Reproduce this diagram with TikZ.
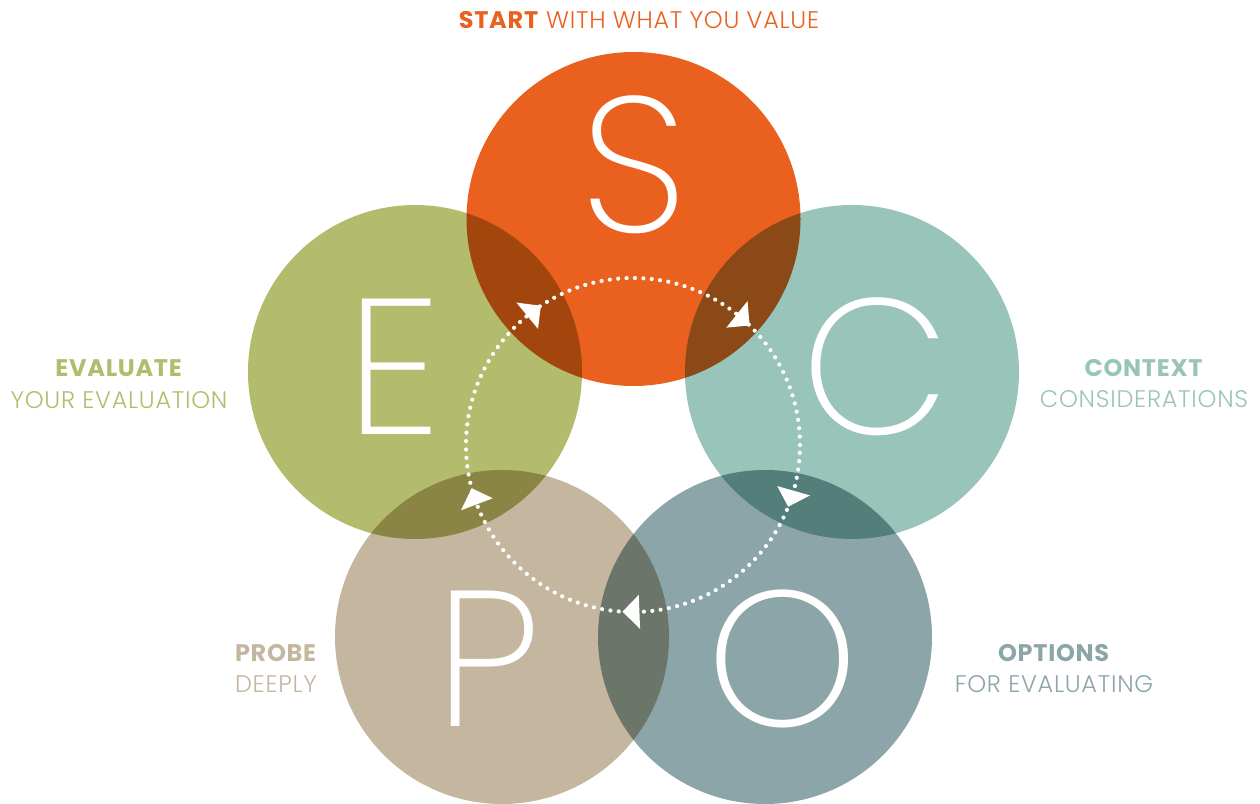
\documentclass[tikz,border=0pt]{standalone}
\usepackage{fontspec}
\IfFontExistsTF{Poppins Light}{\setmainfont{Poppins Light}[BoldFont={Poppins Bold},LetterSpace=3]}{\setmainfont{Poppins}}
\IfFontExistsTF{Poppins ExtraLight}{\newfontfamily\letterfont{Poppins ExtraLight}}{\newfontfamily\letterfont{Poppins}}
\usepackage{tikz}
\usetikzlibrary{positioning}

\definecolor{colS}{HTML}{E9601F}
\definecolor{colC}{HTML}{98C4B9}
\definecolor{colO}{HTML}{8CA5A8}
\definecolor{colP}{HTML}{C5B6A0}
\definecolor{colE}{HTML}{B3BB6D}

\begin{document}
\begin{tikzpicture}[x=1pt,y=1pt,node distance=31pt,
  ring/.style={circle,minimum size=334pt,inner sep=0pt,blend mode=multiply},
  bigletter/.style={text=white,anchor=base,inner sep=0pt,font=\letterfont\fontsize{193}{193}\selectfont},
  lbl/.style={inner sep=0pt,font=\fontsize{24}{24}\selectfont},
  dotring/.style={white,line width=4.2pt,line cap=round,dash pattern=on 0pt off 8.4pt}]

  \useasboundingbox (0,0) rectangle (1260,803);

  \node[ring,fill=colS] (S) at (633.5,584) {};
  \node[ring,fill=colC] (C) at (852,431) {};
  \node[ring,fill=colO] (O) at (765,166) {};
  \node[ring,fill=colP] (P) at (502,166) {};
  \node[ring,fill=colE] (E) at (415,431) {};

  % cycle
  \coordinate (cyc) at (633,358);
  \draw[dotring] (cyc) circle (167);
  \foreach \a in {123.5,45.7,-21.7,-93.6,195}
    \fill[white] ([shift={(\a:167)}]cyc) -- ([shift={(\a+5.8:150)}]cyc)
      -- ([shift={(\a+5.8:184)}]cyc) -- cycle;

  \node[bigletter] (Sl) at (633.5,570) {S};
  \node[bigletter] (El) at (393.5,368) {E};
  \node[bigletter] (Cl) at (876,368) {C};
  \node[bigletter] (Pl) at (488,77) {P};
  \node[bigletter] (Ol) at (783,77) {O};

  \node[lbl,text=colS,anchor=base] (start) at (639,774) {\textbf{START} WITH WHAT YOU VALUE};

  \node[lbl,text=colE,anchor=base] (evalA) at (119,426) {\textbf{EVALUATE}};
  \node[lbl,text=colE] (evalB) [below of=evalA] {YOUR EVALUATION};

  \node[lbl,text=colC,anchor=base] (contA) at (1144,426) {\textbf{CONTEXT}};
  \node[lbl,text=colC] (contB) [below of=contA] {CONSIDERATIONS};

  \node[lbl,text=colP,anchor=base] (probA) at (276,141) {\textbf{PROBE}};
  \node[lbl,text=colP] (probB) [below of=probA] {DEEPLY};

  \node[lbl,text=colO,anchor=base] (optA) at (1054,141) {\textbf{OPTIONS}};
  \node[lbl,text=colO] (optB) [below of=optA] {FOR EVALUATING};

\end{tikzpicture}
\end{document}
